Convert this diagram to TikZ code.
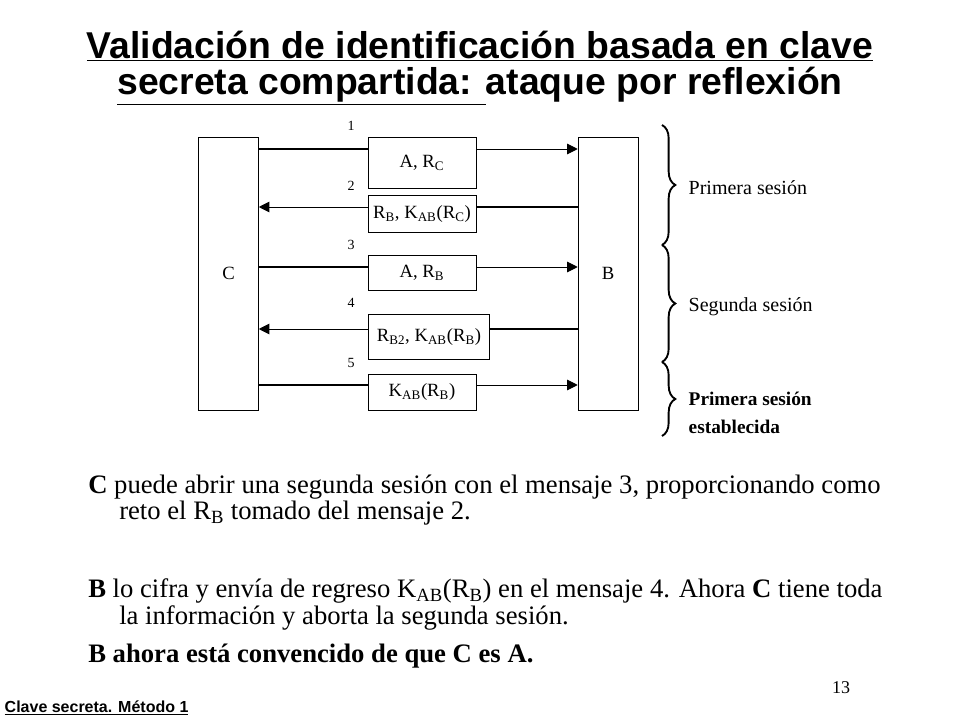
\documentclass[tikz,border=0pt]{standalone}
\usepackage{fontspec}
\setmainfont{Liberation Serif}
\setsansfont{Liberation Sans}
\usetikzlibrary{arrows.meta,decorations.pathreplacing}

\begin{document}
\begin{tikzpicture}[x=0.75pt,y=-0.75pt]
  \tikzstyle{party}=[draw,minimum width=45pt,minimum height=205pt,inner sep=0pt,font=\fontsize{14}{16}\selectfont]
  \tikzstyle{msg}=[draw,inner sep=2pt,font=\fontsize{14}{15}\selectfont]
  \tikzstyle{num}=[font=\fontsize{10.5}{12}\selectfont]
  \tikzstyle{send}=[line width=1.4pt]
  \tikzstyle{recv}=[line width=0.7pt,-{Triangle[length=8pt,width=8pt]}]
  \tikzstyle{sesbrace}=[decorate,decoration={brace,amplitude=10pt},line width=1.4pt]
  \tikzstyle{ses}=[anchor=west,font=\fontsize{15}{20}\selectfont,align=left]
  \useasboundingbox (0,0) rectangle (960,720);

  % title
  \node[font=\sffamily\bfseries\fontsize{28}{33}\selectfont] (T_1) at (480,46) {\underline{Validación de identificación basada en clave}};
  \node[font=\sffamily\bfseries\fontsize{28}{33}\selectfont] (T_2) at (480,86) {\underline{secreta compartida: }ataque por reflexión};

  % parties
  \node[party] (C) at (228.5,273.5) {C};
  \node[party] (B) at (608,273.5) {B};

  % messages
  \node[msg,minimum width=81pt,minimum height=38pt] (M_1) at (422,162.5) {A, R\textsubscript{C}};
  \node[msg,minimum width=81pt,minimum height=28pt] (M_2) at (422,214) {R\textsubscript{B}, K\textsubscript{AB}(R\textsubscript{C})};
  \node[msg,minimum width=81pt,minimum height=26pt] (M_3) at (422,273) {A, R\textsubscript{B}};
  \node[msg,minimum width=91pt,minimum height=34pt] (M_4) at (429,337) {R\textsubscript{B2}, K\textsubscript{AB}(R\textsubscript{B})};
  \node[msg,minimum width=81pt,minimum height=27pt] (M_5) at (422,392) {K\textsubscript{AB}(R\textsubscript{B})};

  \node[num] (N_1) at (351,126) {1};
  \node[num] (N_2) at (351,186) {2};
  \node[num] (N_3) at (351,245) {3};
  \node[num] (N_4) at (351,303) {4};
  \node[num] (N_5) at (351,363) {5};

  \draw[send] (C.east |- 0,149) -- (M_1.west |- 0,149);
  \draw[recv] (M_1.east |- 0,149) -- (B.west |- 0,149);
  \draw[send] (B.west |- 0,207) -- (M_2.east |- 0,207);
  \draw[recv] (M_2.west |- 0,207) -- (C.east |- 0,207);
  \draw[send] (C.east |- 0,267) -- (M_3.west |- 0,267);
  \draw[recv] (M_3.east |- 0,267) -- (B.west |- 0,267);
  \draw[send] (B.west |- 0,329) -- (M_4.east |- 0,329);
  \draw[recv] (M_4.west |- 0,329) -- (C.east |- 0,329);
  \draw[send] (C.east |- 0,385) -- (M_5.west |- 0,385);
  \draw[recv] (M_5.east |- 0,385) -- (B.west |- 0,385);

  % sessions
  \coordinate (S_0) at (662,125);
  \coordinate (S_1) at (662,245);
  \coordinate (S_2) at (662,362);
  \coordinate (S_3) at (662,436);
  \draw[sesbrace] (S_0) -- (S_1);
  \draw[sesbrace] (S_1) -- (S_2);
  \draw[sesbrace] (S_2) -- (S_3);
  \node[ses] (P_1) at (684,188) {Primera sesión};
  \node[ses] (P_2) at (684,307) {Segunda sesión};
  \node[ses,font=\fontsize{14.5}{21}\selectfont\bfseries] (P_3) at (684,413) {Primera sesión\\establecida};

  % text
  \tikzstyle{body}=[anchor=base west,inner sep=0pt,font=\fontsize{20}{24}\selectfont]
  \node[body] (L_1) at (88,493) {\textbf{C} puede abrir una segunda sesión con el mensaje 3, proporcionando como};
  \node[body] (L_2) at (119,519) {reto el R\textsubscript{B} tomado del mensaje 2.};
  \node[body] (L_3) at (88,597) {\textbf{B} lo cifra y envía de regreso K\textsubscript{AB}(R\textsubscript{B}) en el mensaje 4. Ahora \textbf{C} tiene toda};
  \node[body] (L_4) at (119,624) {la información y aborta la segunda sesión.};
  \node[body] (L_5) at (88,662) {\textbf{B ahora está convencido de que C es A.}};
  \node[font=\fontsize{13.5}{15}\selectfont] (PG) at (841,688) {13};
  \node[anchor=west,font=\sffamily\bfseries\fontsize{12}{13}\selectfont] (F) at (0,708) {\underline{Clave secreta. Método 1}};
\end{tikzpicture}
\end{document}
